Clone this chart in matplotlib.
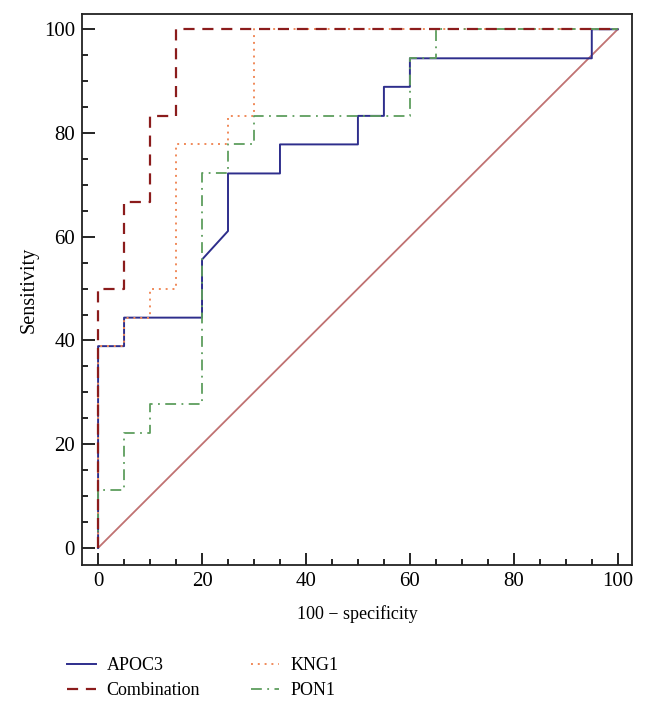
import matplotlib
matplotlib.use('Agg')
import matplotlib.pyplot as plt
from matplotlib.ticker import MultipleLocator

plt.rcParams['font.family'] = ['Liberation Serif', 'DejaVu Serif']

# ROC steps: (100 - specificity, sensitivity)
apoc3_x = [0, 0, 5, 5, 20, 20, 25, 25, 35, 35, 50, 50, 55, 55, 60, 60, 95, 95, 100]
apoc3_y = [0, 38.9, 38.9, 44.4, 44.4, 55.6, 61.1, 72.2, 72.2, 77.8, 77.8, 83.3, 83.3, 88.9, 88.9, 94.4, 94.4, 100, 100]

comb_x = [0, 0, 5, 5, 10, 10, 15, 15, 100]
comb_y = [0, 50, 50, 66.7, 66.7, 83.3, 83.3, 100, 100]

kng1_x = [0, 0, 5, 5, 10, 10, 15, 15, 25, 25, 30, 30, 100]
kng1_y = [0, 38.9, 38.9, 44.4, 44.4, 50, 50, 77.8, 77.8, 83.3, 83.3, 100, 100]

pon1_x = [0, 0, 5, 5, 10, 10, 20, 20, 25, 25, 30, 30, 60, 60, 65, 65, 100]
pon1_y = [0, 11.1, 11.1, 22.2, 22.2, 27.8, 27.8, 72.2, 72.2, 77.8, 77.8, 83.3, 83.3, 94.4, 94.4, 100, 100]

ref_x = [0, 100]
ref_y = [0, 100]

fig = plt.figure(figsize=(6.48, 7.11), dpi=100)
ax = fig.add_axes([0.1265, 0.2053, 0.8485, 0.7747])

ax.plot(ref_x, ref_y, color='#c07272', lw=1.3)
l1, = ax.plot(apoc3_x, apoc3_y, color='#2e2e8c', lw=1.4, label='APOC3')
l3, = ax.plot(kng1_x, kng1_y, color='#f08a5a', lw=1.4, ls=(0, (1, 2.5)), label='KNG1')
l4, = ax.plot(pon1_x, pon1_y, color='#5e9e5e', lw=1.3, ls=(0, (6, 3, 1, 3)), label='PON1')
l2, = ax.plot(comb_x, comb_y, color='#8b1c1c', lw=1.6, ls=(0, (5, 3.5)), label='Combination')

ax.set_xlim(-3.1, 102.7)
ax.set_ylim(-3.3, 102.9)
ax.xaxis.set_major_locator(MultipleLocator(20))
ax.xaxis.set_minor_locator(MultipleLocator(5))
ax.yaxis.set_major_locator(MultipleLocator(20))
ax.yaxis.set_minor_locator(MultipleLocator(5))
ax.tick_params(which='both', direction='in', labelsize=15, width=1.2)
ax.tick_params(which='major', length=9, pad=5)
ax.tick_params(which='minor', length=4.5)
for s in ax.spines.values():
    s.set_linewidth(1.3)
    s.set_color('#222222')

ax.set_xlabel('100 \u2212 specificity', fontsize=13, labelpad=10)
ax.set_ylabel('Sensitivity', fontsize=14.5, labelpad=4)

fig.legend(handles=[l1, l2, l3, l4], loc='lower left', bbox_to_anchor=(0.078, -0.006),
           ncol=2, frameon=False, fontsize=13, handlelength=1.6, handletextpad=0.6,
           columnspacing=2.8, labelspacing=0.45)

fig.savefig('out.png', dpi=100)
